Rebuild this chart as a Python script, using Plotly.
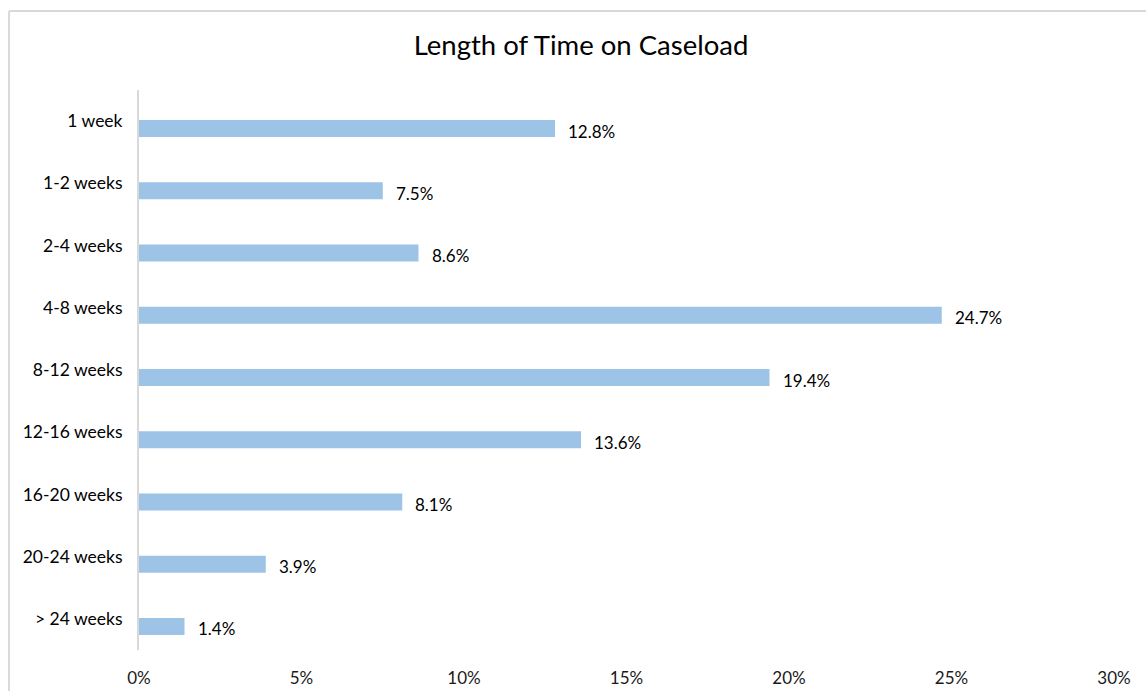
import plotly.graph_objects as go

categories = ["1 week", "1-2 weeks", "2-4 weeks", "4-8 weeks", "8-12 weeks",
              "12-16 weeks", "16-20 weeks", "20-24 weeks", "> 24 weeks"]
shares = [12.8, 7.5, 8.6, 24.7, 19.4, 13.6, 8.1, 3.9, 1.4]
tick_values = [0, 5, 10, 15, 20, 25, 30]
tick_labels = ["0%", "5%", "10%", "15%", "20%", "25%", "30%"]

FONT = "Lato"
BAR_COLOR = "#9DC3E6"
GRID_GREY = "#D9D9D9"

fig = go.Figure()
fig.add_trace(go.Bar(
    x=shares,
    y=categories,
    orientation="h",
    marker=dict(color=BAR_COLOR, line=dict(width=0)),
    width=0.273,
    offset=-0.016,
    hoverinfo="skip",
))

# value labels sit just right of each bar end
for cat, val in zip(categories, shares):
    fig.add_annotation(
        x=val, y=cat, xref="x", yref="y",
        text=f"{val:.1f}%", showarrow=False,
        xanchor="left", yanchor="middle",
        xshift=11, yshift=-10,
        font=dict(family=FONT, size=17, color="#000000"),
    )

# light frame along the top and left edges
fig.add_shape(type="line", xref="paper", yref="paper",
              x0=-0.1333, x1=1.04, y0=1.141, y1=1.141,
              line=dict(color=GRID_GREY, width=2))
fig.add_shape(type="line", xref="paper", yref="paper",
              x0=-0.1333, x1=-0.1333, y0=1.141, y1=-0.08,
              line=dict(color=GRID_GREY, width=2))

fig.update_layout(
    width=1146, height=691,
    margin=dict(l=139, r=32, t=90, b=41),
    paper_bgcolor="white", plot_bgcolor="white",
    showlegend=False,
    title=dict(text="Length of Time on Caseload", x=0.507, xanchor="center",
               y=0.935, yanchor="middle",
               font=dict(family=FONT, size=27.5, color="#000000")),
    font=dict(family=FONT, size=17, color="#000000"),
    bargap=0.7,
)
fig.update_xaxes(
    range=[0, 30], tickvals=tick_values, ticktext=tick_labels,
    showgrid=False, zeroline=False, showline=False, ticks="",
    tickfont=dict(family=FONT, size=17, color="#1a1a1a"),
    ticklabelstandoff=16, automargin=False,
)
fig.update_yaxes(
    categoryorder="array", categoryarray=categories,
    autorange="reversed",
    showgrid=False, zeroline=False,
    showline=True, linecolor=GRID_GREY, linewidth=2,
    ticks="", ticklabelstandoff=11, automargin=False,
    tickfont=dict(family=FONT, size=17.5, color="#000000"),
)

fig.write_html("out.html")
